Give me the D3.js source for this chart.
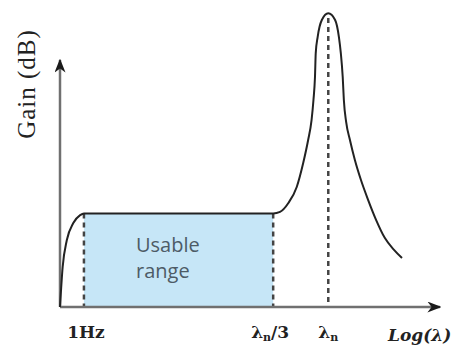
<!DOCTYPE html>
<html>
<head>
	<meta charset="utf-8">
	<script src="https://cdnjs.cloudflare.com/ajax/libs/d3/7.8.5/d3.min.js"></script>
	<style>
	body { margin: 0; background: #fff; }
	.curve { fill: none; stroke: #222; stroke-width: 2px; }
	.guide { stroke: #444; stroke-width: 2.5px; stroke-dasharray: 5,4; }
	.axis-line { stroke: #707070; stroke-width: 2.5px; }
	</style>
</head>
<body>
	<svg width="460" height="347"></svg>
	<script>
	// response curve, log(lambda) vs gain (arbitrary units)
	let logLambda = [0, 0.7, 1.8, 3.5, 5.3, 6.3, 56.1, 57.9, 60.1, 62.3, 64.0, 65.3, 66.2, 66.7, 67.1, 67.3, 67.8, 68.9,
		70.6, 72.4, 73.4, 73.9, 74.4, 74.7, 75.3, 76.3, 77.6, 79.2, 81.1, 83.2, 85.5, 87.9, 90.0];
	let gain = [0, 16.2, 27.1, 34, 37.2, 37.9, 37.9, 38.5, 42.1, 48.6, 58.3, 67.6, 75.7, 83.8, 93.1, 102.8, 109.3, 116.2,
		118.9, 116.2, 109.3, 102.8, 93.1, 83.8, 74.9, 67.6, 59.5, 51.4, 43.3, 35.2, 27.9, 23.1, 19.8];

	// marked frequencies
	let markX = [6.3, 56.1, 70.6];
	let markTop = [37.9, 37.9, 117];
	let plateau = 37.9;
	let usableRange = [6.3, 56.1];

	let svg = d3.select("svg");

	let x = d3.scaleLinear().domain([0, 100]).range([60, 440]),
		y = d3.scaleLinear().domain([0, 100]).range([307, 60]);

	// usable range box
	svg.append("rect")
		.attr("x", x(usableRange[0]))
		.attr("y", y(plateau))
		.attr("width", x(usableRange[1]) - x(usableRange[0]))
		.attr("height", y(0) - y(plateau))
		.attr("fill", "#c6e6f7");

	svg.append("text")
		.attr("x", 136)
		.attr("y", 252)
		.style("font", "20px 'Open Sans', sans-serif")
		.attr("fill", "#4d5b66")
		.text("Usable");
	svg.append("text")
		.attr("x", 136)
		.attr("y", 278)
		.style("font", "20px 'Open Sans', sans-serif")
		.attr("fill", "#4d5b66")
		.text("range");

	// dashed guides
	svg.selectAll(".guide")
		.data(markX)
		.enter().append("line")
		.attr("class", "guide")
		.attr("x1", d => x(d))
		.attr("x2", d => x(d))
		.attr("y1", (d, i) => y(markTop[i]))
		.attr("y2", y(0));

	// axes with arrows
	svg.append("defs").append("marker")
		.attr("id", "arrow")
		.attr("viewBox", "0 0 10 10")
		.attr("refX", 9).attr("refY", 5)
		.attr("markerWidth", 14).attr("markerHeight", 11)
		.attr("markerUnits", "userSpaceOnUse")
		.attr("orient", "auto")
		.attr("preserveAspectRatio", "none")
		.append("path")
		.attr("d", "M0,0 L10,5 L0,10 L3,5 Z")
		.attr("fill", "#1a1a1a");

	svg.append("line")
		.attr("class", "axis-line")
		.attr("x1", x(0)).attr("y1", y(0))
		.attr("x2", x(100)).attr("y2", y(0))
		.attr("marker-end", "url(#arrow)");
	svg.append("line")
		.attr("class", "axis-line")
		.attr("x1", x(0)).attr("y1", y(0))
		.attr("x2", x(0)).attr("y2", y(100))
		.attr("marker-end", "url(#arrow)");

	// gain curve
	let line = d3.line()
		.curve(d3.curveMonotoneX)
		.x(function(d) { return x(d[0]); })
		.y(function(d) { return y(d[1]); });

	svg.append("path")
		.attr("class", "curve")
		.attr("d", line(d3.zip(logLambda, gain)));

	// labels
	let serif = "'Liberation Serif', 'Times New Roman', serif";
	let bserif = "'DejaVu Serif', serif";

	svg.append("text")
		.attr("transform", "translate(35,84) rotate(-90)")
		.attr("text-anchor", "middle")
		.style("font", "25px " + serif)
		.style("letter-spacing", "1px")
		.attr("fill", "#222")
		.text("Gain (dB)");

	svg.append("text")
		.attr("x", x(markX[0]) + 2)
		.attr("y", 338)
		.attr("text-anchor", "middle")
		.style("font", "bold 17px " + bserif)
		.attr("fill", "#222")
		.text("1Hz");

	let l1 = svg.append("text")
		.attr("x", x(markX[1]) - 3)
		.attr("y", 338)
		.attr("text-anchor", "middle")
		.style("font", "bold 17px " + bserif)
		.attr("fill", "#222");
	l1.append("tspan").text("λ");
	l1.append("tspan").attr("font-size", "11px").attr("dy", 3).text("n");
	l1.append("tspan").attr("dy", -3).text("/3");

	let l2 = svg.append("text")
		.attr("x", x(markX[2]))
		.attr("y", 338)
		.attr("text-anchor", "middle")
		.style("font", "bold 17px " + bserif)
		.attr("fill", "#222");
	l2.append("tspan").text("λ");
	l2.append("tspan").attr("font-size", "11px").attr("dy", 3).text("n");

	svg.append("text")
		.attr("x", 388)
		.attr("y", 341)
		.style("font", "italic bold 17px " + bserif)
		.attr("fill", "#222")
		.text("Log(λ)");
	</script>
</body>
</html>
